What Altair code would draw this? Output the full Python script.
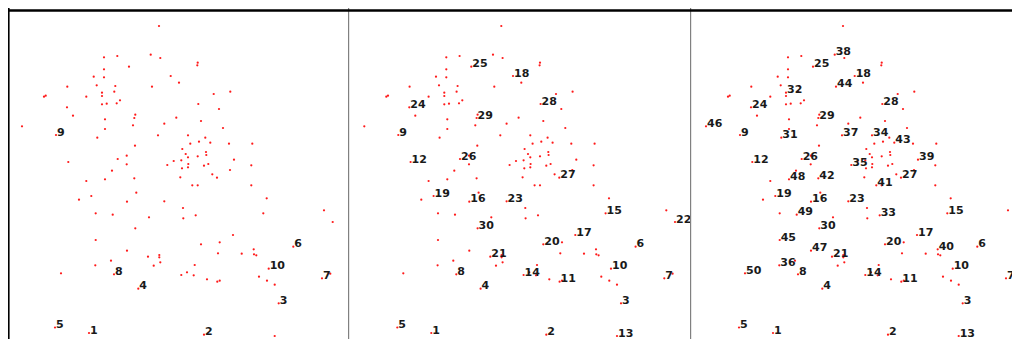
import altair as alt
import pandas as pd

# Labelled points 1..50 (in label order), then the unlabelled points
labeled_x = [83, 198, 272.7, 132.3, 49, 287.3, 316, 108, 50, 262.7,
             211.3, 62.3, 268.7, 175.3, 257.3, 121, 227, 164.7, 85.3, 195,
             142, 326.7, 158.3, 61, 123, 111.7, 211, 192.3, 128.3, 129.3,
             91.3, 96, 189.7, 182, 161.3, 89.3, 152, 144.7, 228, 247.7,
             186.3, 128.3, 204.3, 146, 89.7, 16, 121, 99, 106.7, 55]
labeled_y = [17, 15.3, 46.7, 61.3, 22.5, 103.3, 71.7, 75.7, 215, 81.3,
             68.3, 188, 14, 75, 136.7, 148.3, 115, 274, 154, 105.7,
             93.3, 128, 148.7, 242.7, 283.3, 191, 172.3, 246, 232, 121.7,
             212.3, 257.3, 134.7, 214.7, 185, 84.7, 214.7, 295.3, 190.3, 100.7,
             164.7, 171.7, 207.3, 263.3, 110, 223.7, 99.3, 170.7, 135.3, 76.7]

other_x = [153, 98, 111.3, 154.3, 191.7, 191.3, 98, 87.7, 98, 61.3,
           90.7, 109.3, 173, 38, 39.7, 80.3, 108.3, 96, 96, 100.7,
           110.7, 114, 67, 207.7, 224.3, 213, 99, 99, 129.3, 127,
           170.3, 158.3, 195, 217, 129, 184.3, 199.3, 193, 223, 246.3,
           176.3, 179.7, 182, 191.7, 200, 200.3, 175.3, 167.7, 182.3, 182,
           176, 198, 202.3, 245.3, 224, 206.3, 174.3, 120.7, 120.7, 106,
           80.3, 191.7, 245.3, 73, 130.3, 177, 260.7, 89.7, 143, 177.3,
           318, 213.7, 153.3, 153.3, 212, 235.7, 248, 250.3, 105, 147.7,
           154.3, 188.7, 181, 187.7, 201, 213.7, 253, 261, 268.7, 324.3]
other_y = [324, 292.7, 294, 292, 287.3, 284.7, 280.7, 273.3, 272.7, 263.3,
           264.7, 264, 267.3, 253.3, 254.3, 253.3, 258.3, 254, 245.7, 246.3,
           246.7, 249.7, 234.3, 256, 258.3, 241, 230.7, 221, 235.3, 224.7,
           232.3, 226.3, 229, 222, 204.3, 206.3, 212.3, 208.3, 206.3, 206.3,
           201, 196, 192.7, 193.7, 198, 195, 189.7, 189, 186, 182.7,
           181.7, 184.3, 186, 184.7, 180, 175.7, 172.7, 194.3, 185.7, 179.3,
           169, 164.7, 164.7, 150.3, 157.3, 142, 151.7, 136.7, 132.7, 131.7,
           139.7, 107.7, 95, 92.7, 96.7, 96.3, 95.7, 94.7, 89.3, 84.3,
           87.7, 85, 77.7, 74.7, 70.7, 69.3, 73.3, 69.3, 65.3, 76.3]

labels_shown = [10, 30, 50]

xs = labeled_x + other_x
ys = labeled_y + other_y
df = pd.DataFrame({
    "x": xs,
    "y": ys,
    "order": list(range(1, len(xs) + 1)),
})
df["label"] = df["order"].astype(str)

one = pd.DataFrame({"a": [0]})
H = 331


def panel(n, x_domain, width, left_border):
    xs_ = alt.Scale(domain=x_domain, nice=False, zero=False)
    ys_ = alt.Scale(domain=[11, 342], nice=False, zero=False)
    base = alt.Chart(df).encode(
        x=alt.X("x:Q", scale=xs_, axis=None),
        y=alt.Y("y:Q", scale=ys_, axis=None),
    )
    pts = base.mark_circle(size=5, color="#ff0000", opacity=0.9, clip=True)
    txt = base.transform_filter(alt.datum.order <= n).mark_text(
        align="left", baseline="alphabetic", dx=1, dy=0.5,
        font="DejaVu Sans", fontWeight="bold", fontSize=11,
        color="#1a1a1a", clip=True,
    ).encode(text="label:N")
    top = alt.Chart(one).mark_rule(color="#000000", strokeWidth=2.5, clip=True).encode(
        x=alt.value(0), x2=alt.value(width), y=alt.value(2.5))
    if left_border:
        side = alt.Chart(one).mark_rule(color="#000000", strokeWidth=1.6, clip=True).encode(
            x=alt.value(0.8), y=alt.value(0), y2=alt.value(H))
    else:
        side = alt.Chart(one).mark_rule(color="#808080", strokeWidth=1.2, clip=True).encode(
            x=alt.value(0.6), y=alt.value(0), y2=alt.value(H))
    return alt.layer(pts, txt, side, top).properties(width=width, height=H)


chart = alt.hconcat(
    panel(labels_shown[0], [2, 342], 340, True),
    panel(labels_shown[1], [-0.3, 341.7], 342, False),
    panel(labels_shown[2], [0, 322], 322, False),
    spacing=0, bounds="flush",
).properties(padding=0).configure_view(stroke=None)

chart.save("out.html", embed_options={"renderer": "svg", "actions": False})
